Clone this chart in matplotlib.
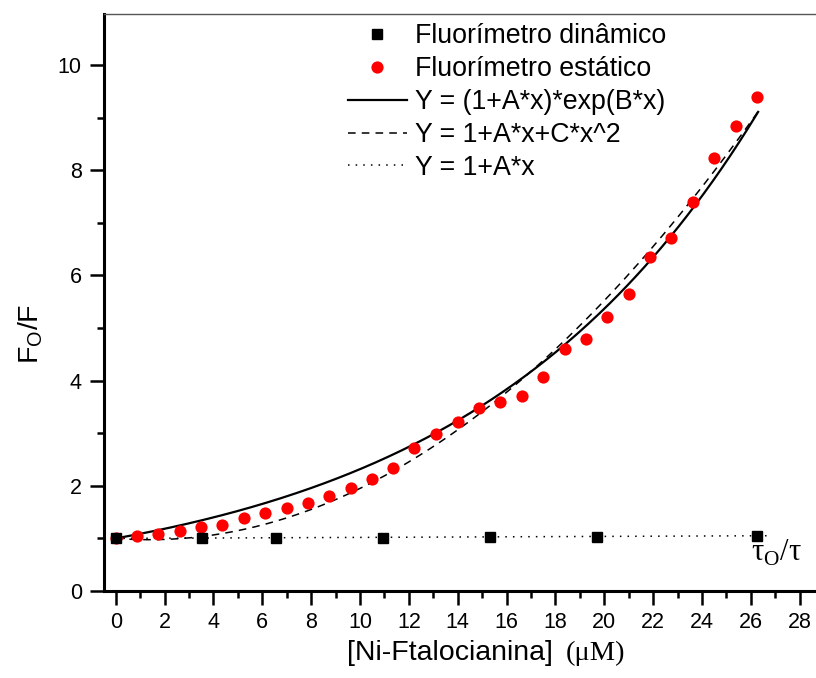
#!/usr/bin/env python

'''
plot.py: Stern-Volmer plot for Ni-Ftalocianina (static and dynamic fluorimeter)
'''

import matplotlib
matplotlib.use("Agg")
import matplotlib.pyplot as plt
from matplotlib.ticker import MultipleLocator
import numpy as np

# Fluorimetro estatico (F0/F)
static_conc = [0.0, 0.875, 1.75, 2.62, 3.5, 4.37, 5.25, 6.12, 7.0, 7.87,
               8.75, 9.62, 10.5, 11.37, 12.2, 13.1, 14.0, 14.87, 15.74, 16.63,
               17.5, 18.38, 19.25, 20.12, 21.0, 21.87, 22.74, 23.62, 24.5,
               25.38, 26.26]
static_ratio = [1.0, 1.04, 1.08, 1.15, 1.21, 1.26, 1.39, 1.48, 1.57, 1.68,
                1.81, 1.96, 2.13, 2.33, 2.72, 2.98, 3.22, 3.48, 3.59, 3.71,
                4.07, 4.61, 4.79, 5.21, 5.64, 6.35, 6.71, 7.40, 8.24,
                8.85, 9.39]

# Fluorimetro dinamico (tau0/tau)
dynamic_conc = [0.0, 3.52, 6.56, 10.93, 15.32, 19.7, 26.25]
dynamic_ratio = [1.0, 1.0, 1.0, 1.0, 1.02, 1.03, 1.05]

# fit parameters, estimated from the drawn curves
exp_A, exp_B = 0.0, 0.084          # Y = (1+A*x)*exp(B*x)
quad_A, quad_C = -0.036, 0.0131    # Y = 1+A*x+C*x^2
lin_A = 0.0019                     # Y = 1+A*x
fit_range = (0.0, 26.3)
lin_range = (0.0, 26.65)

xticks = list(range(0, 30, 2))
yticks = [0, 2, 4, 6, 8, 10]

legend_labels = ["Fluorímetro dinâmico", "Fluorímetro estático",
                 "Y = (1+A*x)*exp(B*x)", "Y = 1+A*x+C*x^2", "Y = 1+A*x"]


def make_plot(filename="out.png"):

    plt.rcParams['font.family'] = ['Liberation Sans', 'DejaVu Sans']

    W, H = 816, 678
    fig = plt.figure(figsize=(W / 100, H / 100), dpi=100)
    ax = fig.add_axes([104 / W, 87 / H, 712 / W, 577 / H])

    xfit = np.linspace(fit_range[0], fit_range[1], 300)
    xlin = np.linspace(lin_range[0], lin_range[1], 2)

    sq, = ax.plot(dynamic_conc, dynamic_ratio, 's', color='black', ms=7.4, zorder=5)
    circ, = ax.plot(static_conc, static_ratio, 'o', color='#ff0000', ms=8.8,
                    markeredgewidth=0, zorder=4)
    solid, = ax.plot(xfit, (1 + exp_A * xfit) * np.exp(exp_B * xfit), '-',
                     color='black', lw=1.6, zorder=3)
    dashed, = ax.plot(xfit, 1 + quad_A * xfit + quad_C * xfit ** 2, '--',
                      color='black', lw=1.1, dashes=(5, 4), zorder=3)
    dotted, = ax.plot(xlin, 1 + lin_A * xlin, ':', color='black', lw=1.1,
                      dashes=(1, 4), zorder=3)

    ax.set_xlim(-0.48, 28.67)
    ax.set_ylim(0, 10.97)

    ax.set_xticks(xticks)
    ax.set_yticks(yticks)
    ax.xaxis.set_minor_locator(MultipleLocator(1))
    ax.yaxis.set_minor_locator(MultipleLocator(1))
    ax.tick_params(which='major', direction='out', length=10, width=1.8,
                   labelsize=15.5, pad=6)
    ax.tick_params(axis='x', which='major', pad=5)
    ax.tick_params(which='minor', direction='out', length=5, width=1.8)

    for side in ('left', 'bottom'):
        ax.spines[side].set_linewidth(2.2)
    ax.spines['top'].set_linewidth(1.0)
    ax.spines['top'].set_color('#555555')
    ax.spines['right'].set_visible(False)

    # axis labels are placed by hand, the x one mixes Arial and Times
    fig.text(31 / W, 1 - 334 / H, r'F$_\mathregular{O}$/F', rotation=90,
             ha='center', va='center', fontsize=20.5)
    fig.text(553 / W, 1 - 660 / H, '[Ni-Ftalocianina]', ha='right',
             va='baseline', fontsize=20.5)
    fig.text(566 / W, 1 - 660 / H, '(μM)', ha='left', va='baseline',
             fontsize=20.5, family=['Liberation Serif', 'DejaVu Serif'])

    ax.text(751 / W, 1 - 561 / H, r'τ$_\mathregular{O}$/τ', transform=fig.transFigure,
            ha='left', va='baseline', fontsize=22,
            family=['Liberation Serif', 'DejaVu Serif'])

    ax.legend([sq, circ, solid, dashed, dotted], legend_labels,
              loc='upper left', bbox_to_anchor=(348 / W, 1 - 23 / H),
              bbox_transform=fig.transFigure, frameon=False, fontsize=19.3,
              borderpad=0, borderaxespad=0, handlelength=2.2,
              handletextpad=0.3, labelspacing=0.26, numpoints=1)

    fig.savefig(filename, dpi=100)
    plt.close()


if __name__ == '__main__':
    make_plot()
